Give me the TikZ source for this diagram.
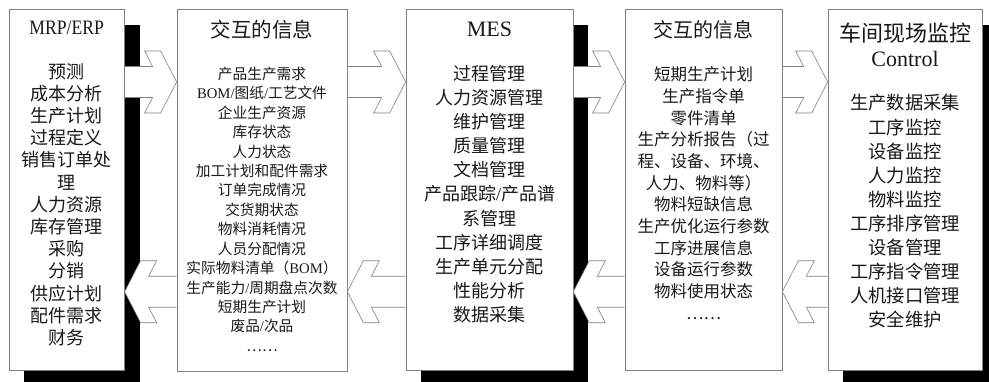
\documentclass[tikz,border=0pt]{standalone}
\usepackage{fontspec}
\setmainfont{Liberation Serif}
\newfontfamily\cjk{Noto Sans CJK SC}
\newcommand{\lat}[1]{{\rmfamily #1}}
\usetikzlibrary{calc}
\pgfdeclarelayer{shadowl}
\pgfdeclarelayer{arrowl}
\pgfsetlayers{shadowl,arrowl,main}
\tikzset{
  box/.style={draw=black!50, line width=0.7pt, fill=white, inner sep=0pt, rectangle},
  arrline/.style={draw=black!50, fill=white, line width=0.6pt, line join=miter},
  ln/.style={inner sep=0pt, anchor=base, text=black!90},
  fs/.style={font=\cjk\fontsize{#1pt}{#1pt}\selectfont},
  fl/.style={font=\rmfamily\fontsize{#1pt}{#1pt}\selectfont},
}
% right-pointing hollow arrow: body starts at x of #1, tip at #2
\newcommand{\rarrow}[2]{%
  \begin{pgfonlayer}{arrowl}
  \filldraw[arrline] ($(#1 |- #2)+(0,-15.5)$) -- ($(#2)+(-24,-15.5)$) -- ($(#2)+(-32,-31)$)
    -- ($(#2)+(-16,-31)$) -- (#2) -- ($(#2)+(-16,31)$) -- ($(#2)+(-32,31)$)
    -- ($(#2)+(-24,15.5)$) -- ($(#1 |- #2)+(0,15.5)$);
  \end{pgfonlayer}}
% left-pointing hollow arrow
\newcommand{\larrow}[2]{%
  \begin{pgfonlayer}{arrowl}
  \filldraw[arrline] ($(#1 |- #2)+(0,-15.5)$) -- ($(#2)+(24,-15.5)$) -- ($(#2)+(32,-31)$)
    -- ($(#2)+(16,-31)$) -- (#2) -- ($(#2)+(16,31)$) -- ($(#2)+(32,31)$)
    -- ($(#2)+(24,15.5)$) -- ($(#1 |- #2)+(0,15.5)$);
  \end{pgfonlayer}}
\newcommand{\boxshadow}[1]{%
  \begin{pgfonlayer}{shadowl}
  \fill[black] ($(#1.north west)+(15,16)$) rectangle ($(#1.south east)+(15,16)$);
  \end{pgfonlayer}}
\begin{document}
\begin{tikzpicture}[x=1pt,y=-1pt]
\useasboundingbox (0,0) rectangle (989,381);
% boxes
\node[box, minimum width=115.3pt, minimum height=361.5pt] (b1) at (66.65,189.75) {};
\node[box, minimum width=170pt,   minimum height=362.5pt] (b2) at (262,190.25) {};
\node[box, minimum width=167pt,   minimum height=361.5pt] (b3) at (489.5,189.75) {};
\node[box, minimum width=157pt,   minimum height=361.5pt] (b4) at (703.5,189.75) {};
\node[box, minimum width=154pt,   minimum height=361.5pt] (b5) at (905,189.75) {};
\boxshadow{b1}
\boxshadow{b3}
\boxshadow{b5}
% arrow tips
\coordinate (t1) at (b2.west |- 0,82);
\coordinate (t2) at (b1.east |- 0,291.7);
\coordinate (t3) at (b3.west |- 0,82);
\coordinate (t4) at (b2.east |- 0,291.7);
\coordinate (t5) at (b4.west |- 0,82);
\coordinate (t6) at (b3.east |- 0,291.7);
\coordinate (t7) at (b5.west |- 0,82);
\coordinate (t8) at (b4.east |- 0,291.7);
\rarrow{b1.east}{t1}
\larrow{b2.west}{t2}
\rarrow{b2.east}{t3}
\larrow{b3.west}{t4}
\rarrow{b3.east}{t5}
\larrow{b4.west}{t6}
\rarrow{b4.east}{t7}
\larrow{b5.west}{t8}
% titles
\node[ln, fl=20.5] (h1) at ($(b1.north)+(0,25.5)$) {\scalebox{0.86}[1]{MRP/ERP}};
\node[ln, fs=20.5] (h2) at ($(b2.north)+(0,28.8)$) {交互的信息};
\node[ln, fl=22] (h3) at ($(b3.north)+(0,28.3)$) {MES};
\node[ln, fs=20] (h4) at ($(b4.north)+(0,28.6)$) {交互的信息};
\node[ln, fs=22] (h5) at ($(b5.north)+(0,32.4)$) {车间现场监控};
\node[ln, fl=22] (h5b) at ($(b5.north)+(0,58.3)$) {Control};
% items
\foreach \t [count=\i] in {预测,成本分析,生产计划,过程定义,销售订单处,理,人力资源,库存管理,采购,分销,供应计划,配件需求,财务}
  \node[ln, fs=18] (b1-\i) at ($(b1.north)+(0,{69.5+(\i-1)*22.2})$) {\t};
\foreach \t [count=\i] in {产品生产需求,{\lat{BOM/}图纸\lat{/}工艺文件},企业生产资源,库存状态,人力状态,加工计划和配件需求,订单完成情况,交货期状态,物料消耗情况,人员分配情况,{实际物料清单（\lat{BOM}）},{生产能力\lat{/}周期盘点次数},短期生产计划,{废品\lat{/}次品},……}
  \node[ln, fs=14.7] (b2-\i) at ($(b2.north)+(0,{70.6+(\i-1)*19.44})$) {\t};
\foreach \t [count=\i] in {过程管理,人力资源管理,维护管理,质量管理,文档管理,{产品跟踪\lat{/}产品谱},系管理,工序详细调度,生产单元分配,性能分析,数据采集}
  \node[ln, fs=18] (b3-\i) at ($(b3.north)+(0,{71.8+(\i-1)*24.1})$) {\t};
\foreach \t [count=\i] in {短期生产计划,生产指令单,零件清单,生产分析报告（过,程、设备、环境、,人力、物料等）,物料短缺信息,生产优化运行参数,工序进展信息,设备运行参数,物料使用状态,……}
  \node[ln, fs=16.5] (b4-\i) at ($(b4.north)+(0,{72.3+(\i-1)*21.67})$) {\t};
\foreach \t [count=\i] in {生产数据采集,工序监控,设备监控,人力监控,物料监控,工序排序管理,设备管理,工序指令管理,人机接口管理,安全维护}
  \node[ln, fs=18.3] (b5-\i) at ($(b5.north)+(0,{101.3+(\i-1)*24.07})$) {\t};
\end{tikzpicture}
\end{document}
